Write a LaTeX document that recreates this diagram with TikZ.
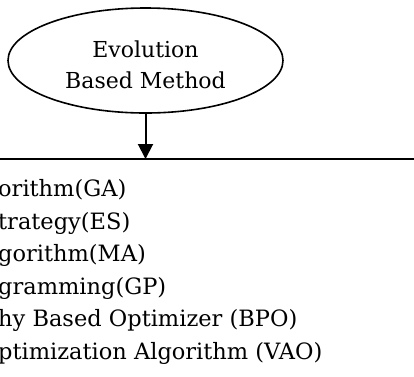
\documentclass[tikz,border=0pt]{standalone}
\usepackage{fontspec}
\setmainfont{DejaVu Serif}
\usetikzlibrary{arrows.meta, shapes.geometric, positioning}

\tikzset{
    method/.style={ellipse, draw, line width=1.6pt, minimum width=275pt, minimum height=105pt},
    algo/.style={anchor=base west, inner sep=0pt, font=\fontsize{22.5}{30}\selectfont}
}

\begin{document}
\begin{tikzpicture}[x=1pt, y=-1pt]
                        \useasboundingbox (0, 0) rectangle (414, 376);
                        \node[method] (evo) at (145.5, 60.5) {};
                        \node[align=center, font=\fontsize{22}{31}\selectfont] (evot) at (145.5, 64.5) {Evolution\\Based Method};
                        \coordinate (l) at (0, 159);
                        \coordinate (r) at (414, 159);
                        \node[algo] (ga) at (-2, 196.7) {orithm(GA)};
                        \node[algo] (es) at (-2, 229) {trategy(ES)};
                        \node[algo] (ma) at (-2, 261.7) {gorithm(MA)};
                        \node[algo] (gp) at (-2, 294) {gramming(GP)};
                        \node[algo] (bpo) at (-2, 326.7) {hy Based Optimizer (BPO)};
                        \node[algo] (vao) at (-2, 359) {ptimization Algorithm (VAO)};
                        \draw[line width=2pt] (l) -- (r);
                        \draw[line width=2pt, -{Triangle[length=15pt, width=15pt]}]
                        (evo.south) -- (evo.south |- l);
                    \end{tikzpicture}
\end{document}
